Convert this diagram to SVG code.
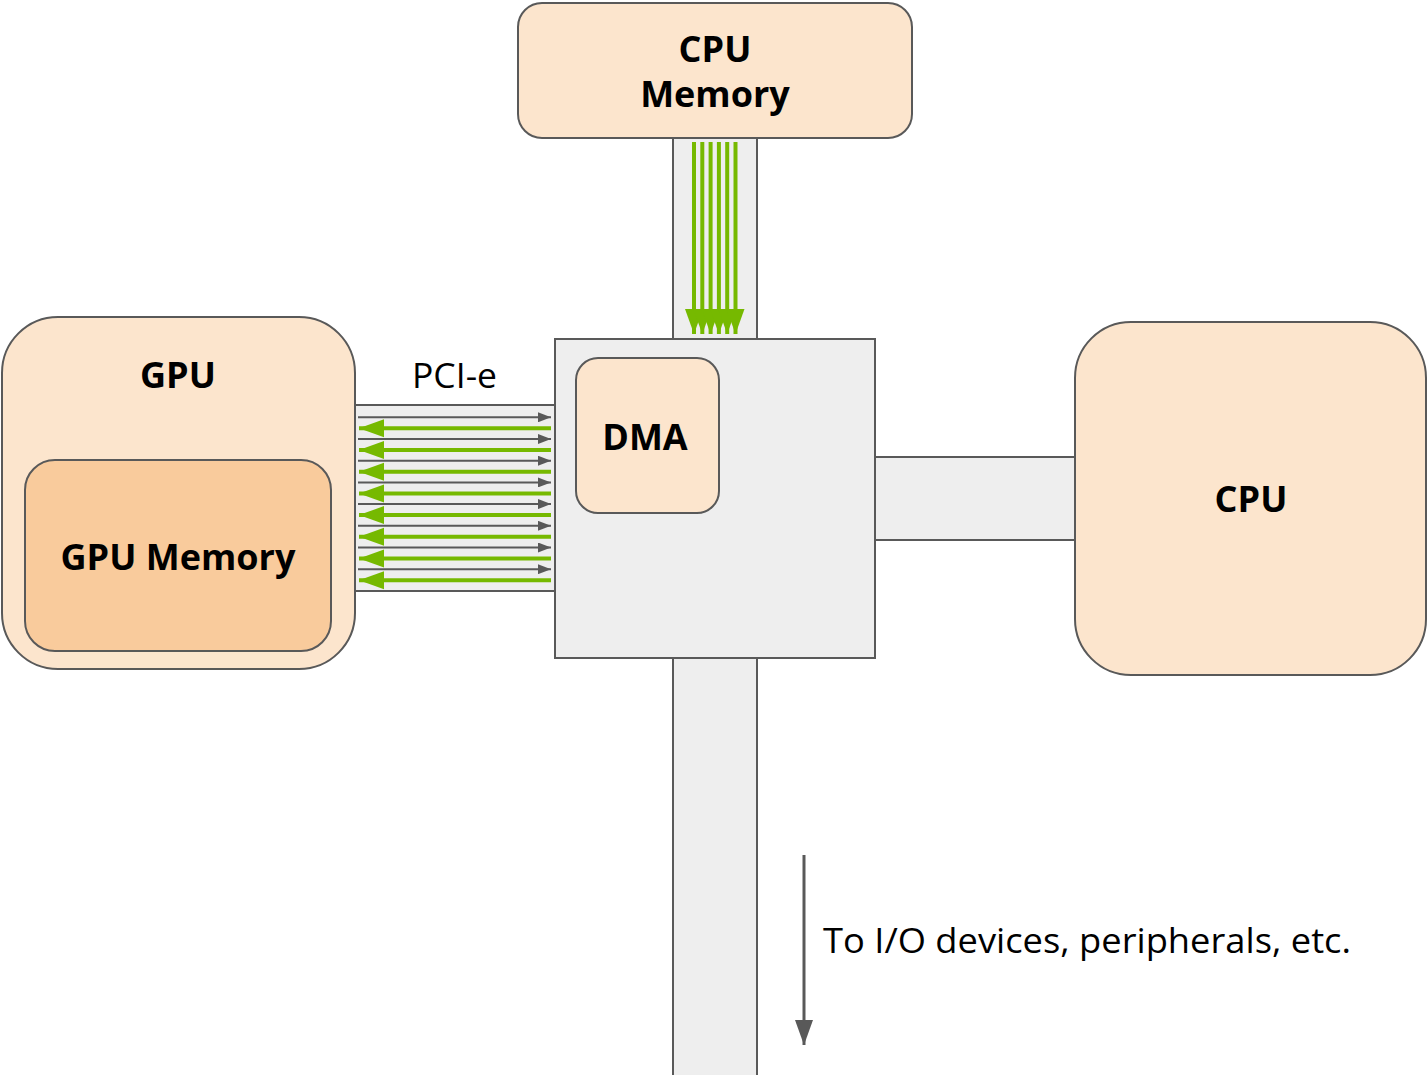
<svg xmlns="http://www.w3.org/2000/svg" width="1427" height="1075" viewBox="0 0 1427 1075">
  <style>
    .node { fill: #fce5cd; stroke: #595959; stroke-width: 2; }
    .inner { fill: #f9cb9c; stroke: #595959; stroke-width: 2; }
    .bus { fill: #eeeeee; stroke: #595959; stroke-width: 2; }
    .label { font-family: "Open Sans", "Liberation Sans", sans-serif; font-weight: bold; font-size: 36px; fill: #000; text-anchor: middle; }
    .plain { font-family: "Open Sans", "Liberation Sans", sans-serif; font-size: 34px; fill: #000; }
    .wire { stroke: #595959; stroke-width: 2; }
    .flow { stroke: #76b900; stroke-width: 4; }
  </style>
  <defs>
    <marker id="grayHead" markerWidth="14" markerHeight="10" refX="13" refY="5" orient="auto" markerUnits="userSpaceOnUse">
      <path d="M0,0 L13,5 L0,10 Z" fill="#595959"/>
    </marker>
    <marker id="greenHead" markerWidth="26" markerHeight="20" refX="25" refY="10" orient="auto" markerUnits="userSpaceOnUse">
      <path d="M0,1 L25,10 L0,19 Z" fill="#76b900"/>
    </marker>
    <marker id="ioHead" markerWidth="26" markerHeight="20" refX="25" refY="10" orient="auto" markerUnits="userSpaceOnUse">
      <path d="M0,1 L25,10 L0,19 Z" fill="#595959"/>
    </marker>
  </defs>

  <!-- bus segments -->
  <g id="buses">
    <rect class="bus" x="673" y="138" width="84" height="201"/>
    <rect class="bus" x="673" y="658" width="84" height="420"/>
    <rect class="bus" x="875" y="457" width="200" height="83"/>
    <rect class="bus" x="355" y="405" width="200" height="186"/>
  </g>

  <g id="chipset">
    <rect class="bus" x="555" y="339" width="320" height="319"/>
  </g>

  <g id="cpu-memory">
    <rect class="node" x="518" y="3" width="394" height="135" rx="24"/>
    <text class="label" x="715" y="62">CPU</text>
    <text class="label" x="715" y="107">Memory</text>
  </g>

  <g id="gpu">
    <rect class="node" x="2" y="317" width="353" height="352" rx="56"/>
    <text class="label" x="178" y="388">GPU</text>
  </g>

  <g id="gpu-memory">
    <rect class="inner" x="25" y="460" width="306" height="191" rx="30"/>
    <text class="label" x="178" y="570">GPU Memory</text>
  </g>

  <g id="dma">
    <rect class="node" x="576" y="358" width="143" height="155" rx="22"/>
    <text class="label" x="645" y="450">DMA</text>
  </g>

  <g id="cpu">
    <rect class="node" x="1075" y="322" width="351" height="353" rx="56"/>
    <text class="label" x="1251" y="512">CPU</text>
  </g>

  <text class="plain" x="412" y="388" textLength="85" lengthAdjust="spacingAndGlyphs">PCI-e</text>

  <g id="connectors">
    <!-- PCI-e lanes: requests to the chipset -->
    <g class="wire" marker-end="url(#grayHead)">
      <line x1="358" y1="417.3" x2="551" y2="417.3"/>
      <line x1="358" y1="439" x2="551" y2="439"/>
      <line x1="358" y1="460.7" x2="551" y2="460.7"/>
      <line x1="358" y1="482.4" x2="551" y2="482.4"/>
      <line x1="358" y1="504.1" x2="551" y2="504.1"/>
      <line x1="358" y1="525.8" x2="551" y2="525.8"/>
      <line x1="358" y1="547.5" x2="551" y2="547.5"/>
      <line x1="358" y1="569.2" x2="551" y2="569.2"/>
    </g>
    <!-- PCI-e lanes: data to the GPU -->
    <g class="flow" marker-end="url(#greenHead)">
      <line x1="551" y1="428.3" x2="359" y2="428.3"/>
      <line x1="551" y1="450" x2="359" y2="450"/>
      <line x1="551" y1="471.7" x2="359" y2="471.7"/>
      <line x1="551" y1="493.4" x2="359" y2="493.4"/>
      <line x1="551" y1="515.1" x2="359" y2="515.1"/>
      <line x1="551" y1="536.8" x2="359" y2="536.8"/>
      <line x1="551" y1="558.5" x2="359" y2="558.5"/>
      <line x1="551" y1="580.2" x2="359" y2="580.2"/>
    </g>
    <!-- memory bus: data from CPU memory -->
    <g class="flow" marker-end="url(#greenHead)">
      <line x1="694" y1="142" x2="694" y2="334"/>
      <line x1="702.3" y1="142" x2="702.3" y2="334"/>
      <line x1="710.6" y1="142" x2="710.6" y2="334"/>
      <line x1="718.9" y1="142" x2="718.9" y2="334"/>
      <line x1="727.2" y1="142" x2="727.2" y2="334"/>
      <line x1="735.5" y1="142" x2="735.5" y2="334"/>
    </g>
    <!-- towards I/O devices -->
    <line x1="804" y1="855" x2="804" y2="1045" stroke="#595959" stroke-width="3" marker-end="url(#ioHead)"/>
  </g>

  <text class="plain" x="823" y="953" textLength="528" lengthAdjust="spacingAndGlyphs">To I/O devices, peripherals, etc.</text>
</svg>
